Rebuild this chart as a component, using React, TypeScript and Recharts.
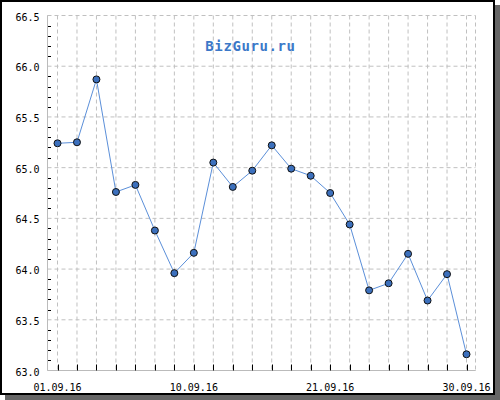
import React from 'react';
import { LineChart, Line, XAxis, YAxis, CartesianGrid } from 'recharts';

const dates = ['01.09.16', '02.09.16', '03.09.16', '06.09.16', '07.09.16', '08.09.16', '09.09.16', '10.09.16', '13.09.16', '14.09.16', '15.09.16', '16.09.16', '17.09.16', '20.09.16', '21.09.16', '22.09.16', '23.09.16', '24.09.16', '27.09.16', '28.09.16', '29.09.16', '30.09.16'];
const rates = [65.24, 65.25, 65.87, 64.76, 64.83, 64.38, 63.96, 64.16, 65.05, 64.81, 64.97, 65.22, 64.99, 64.92, 64.75, 64.44, 63.79, 63.86, 64.15, 63.69, 63.95, 63.16];
const labeledDates = ['01.09.16', '10.09.16', '21.09.16', '30.09.16'];
const yMajorTicks = [63, 63.5, 64, 64.5, 65, 65.5, 66, 66.5];
const yMinorTicks = [63.1, 63.2, 63.3, 63.4, 63.6, 63.7, 63.8, 63.9, 64.1, 64.2, 64.3, 64.4, 64.6, 64.7, 64.8, 64.9, 65.1, 65.2, 65.3, 65.4, 65.6, 65.7, 65.8, 65.9, 66.1, 66.2, 66.3, 66.4];
const yDomain = [63, 66.5];
const title = 'BizGuru.ru';

const data = dates.map((d, i) => ({ date: d, rate: rates[i] }));
const allYTicks = [...yMajorTicks, ...yMinorTicks].sort((a, b) => a - b);

const FONT = '"DejaVu Sans Mono", monospace';

const YTick = (props: any) => {
  const { x, y, payload } = props;
  const v = payload.value as number;
  const isMajor = yMajorTicks.some((t) => Math.abs(t - v) < 1e-6);
  if (isMajor) {
    return (
      <text x={x} y={y + 5} textAnchor="end" fontFamily={FONT} fontSize={10} fill="#000">
        {v.toFixed(1)}
      </text>
    );
  }
  const yy = Math.round(y) + 0.5;
  return <line x1={x + 8.5} x2={x + 11.5} y1={yy} y2={yy} stroke="#000" strokeWidth={1} />;
};

const XTick = (props: any) => {
  const { x, y, payload } = props;
  const xx = Math.round(x) + 0.5;
  return (
    <g>
      <line x1={xx} x2={xx} y1={y - 8} y2={y - 14} stroke="#000" strokeWidth={1} />
      {labeledDates.includes(payload.value) && (
        <text x={x} y={y + 12} textAnchor="middle" fontFamily={FONT} fontSize={10} fill="#000">
          {payload.value}
        </text>
      )}
    </g>
  );
};

export default function App() {
  return (
    <div style={{ position: 'absolute', left: 0, top: 0, width: 500, height: 400, background: '#fff' }}>
      <div style={{ position: 'absolute', left: 5, top: 5, width: 495, height: 395, background: '#666' }} />
      <div style={{ position: 'absolute', left: 0, top: 0, width: 491, height: 391, background: '#fff', border: '2px solid #000' }} />
      <div style={{ position: 'absolute', left: 0, top: 0 }}>
        <LineChart width={500} height={400} data={data} margin={{ top: 15.5, right: 24.5, bottom: 0, left: 0 }}>
          <CartesianGrid
            xAxisId="b"
            yAxisId="l"
            stroke="#c0c0c0"
            strokeDasharray="4 3"
            horizontalValues={yMajorTicks}
          />
          <XAxis
            xAxisId="b"
            dataKey="date"
            interval={0}
            height={29.5}
            padding={{ left: 10, right: 9 }}
            tickLine={false}
            axisLine={{ stroke: '#bbb' }}
            tick={<XTick />}
          />
          <XAxis
            xAxisId="t"
            orientation="top"
            dataKey="date"
            height={0}
            padding={{ left: 10, right: 9 }}
            tick={false}
            tickLine={false}
            axisLine={{ stroke: '#bbb' }}
          />
          <YAxis
            yAxisId="l"
            width={47.5}
            domain={yDomain}
            ticks={allYTicks}
            interval={0}
            type="number"
            allowDataOverflow
            tickLine={false}
            axisLine={{ stroke: '#bbb' }}
            tick={<YTick />}
          />
          <YAxis
            yAxisId="r"
            orientation="right"
            width={0}
            domain={yDomain}
            type="number"
            allowDataOverflow
            tick={false}
            tickLine={false}
            axisLine={{ stroke: '#bbb' }}
          />
          <Line
            xAxisId="b"
            yAxisId="l"
            type="linear"
            dataKey="rate"
            stroke="#5b8fd9"
            strokeWidth={1}
            dot={{ r: 3.5, fill: '#3c70bd', stroke: '#111', strokeWidth: 1 }}
            isAnimationActive={false}
          />
        </LineChart>
      </div>
      <svg width={500} height={400} style={{ position: 'absolute', left: 0, top: 0, pointerEvents: 'none' }}>
        <text x={250.5} y={51} textAnchor="middle" fontFamily={FONT} fontSize={14} fontWeight="bold" letterSpacing={0.6} fill="#3b78c8">
          {title}
        </text>
      </svg>
    </div>
  );
}
